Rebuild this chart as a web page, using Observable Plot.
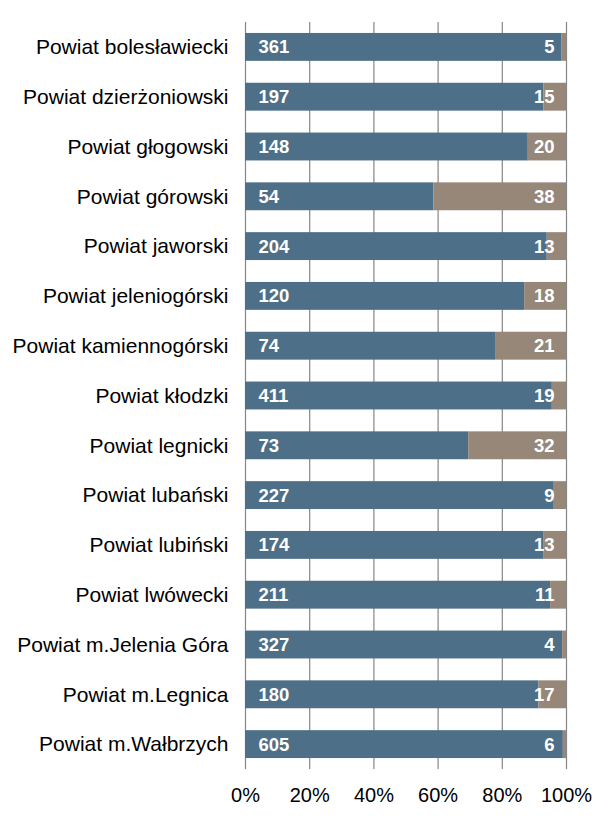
<!DOCTYPE html>
<html>
<head>
<meta charset="utf-8">
<script src="https://cdn.jsdelivr.net/npm/d3@7"></script>
<script src="https://cdn.jsdelivr.net/npm/@observablehq/plot@0.6"></script>
<style>
  html, body { margin: 0; padding: 0; background: #fff; }
  svg { display: block; }
</style>
</head>
<body>
<div id="chart"></div>
<script>
const categories = [
  "Powiat bolesławiecki",
  "Powiat dzierżoniowski",
  "Powiat głogowski",
  "Powiat górowski",
  "Powiat jaworski",
  "Powiat jeleniogórski",
  "Powiat kamiennogórski",
  "Powiat kłodzki",
  "Powiat legnicki",
  "Powiat lubański",
  "Powiat lubiński",
  "Powiat lwówecki",
  "Powiat m.Jelenia Góra",
  "Powiat m.Legnica",
  "Powiat m.Wałbrzych"
];
const seriesA = [361, 197, 148, 54, 204, 120, 74, 411, 73, 227, 174, 211, 327, 180, 605];
const seriesB = [5, 15, 20, 38, 13, 18, 21, 19, 32, 9, 13, 11, 4, 17, 6];
const xTicks = [0, 0.2, 0.4, 0.6, 0.8, 1];

const colorA = "#4E6F88";
const colorB = "#968779";

const data = [];
categories.forEach((c, i) => {
  data.push({name: c, series: "A", value: seriesA[i]});
  data.push({name: c, series: "B", value: seriesB[i]});
});
const dataA = data.filter(d => d.series === "A");
const dataB = data.filter(d => d.series === "B");

const chart = Plot.plot({
  width: 616,
  height: 819,
  marginLeft: 245,
  marginRight: 50,
  marginTop: 22,
  marginBottom: 50,
  style: {fontFamily: "'Liberation Sans', Arial, sans-serif", color: "#000", background: "#fff"},
  x: {domain: [0, 1], label: null},
  y: {domain: categories, paddingInner: 0.44, paddingOuter: 0.22, round: false, label: null},
  color: {domain: ["A", "B"], range: [colorA, colorB]},
  marks: [
    Plot.ruleX(xTicks, {stroke: "#868686", strokeWidth: 1.2}),
    Plot.barX(data, Plot.stackX({x: "value", y: "name", fill: "series", offset: "normalize", order: ["A", "B"]})),
    Plot.textX(dataA, Plot.stackX1({x: "value", y: "name", offset: "normalize", text: d => String(d.value), textAnchor: "start", dx: 13, fill: "#fff", fontWeight: "bold", fontSize: 18.5})),
    Plot.textX(dataB, Plot.stackX2({x: "value", y: "name", offset: "normalize", text: d => String(d.value), textAnchor: "end", dx: -12, fill: "#fff", fontWeight: "bold", fontSize: 18.5})),
    Plot.axisX(xTicks, {tickFormat: d => Math.round(d * 100) + "%", tickSize: 0, tickPadding: 18, fontSize: 20, label: null}),
    Plot.axisY({tickSize: 0, tickPadding: 17, fontSize: 21, label: null})
  ]
});
document.getElementById("chart").appendChild(chart);
</script>
</body>
</html>
